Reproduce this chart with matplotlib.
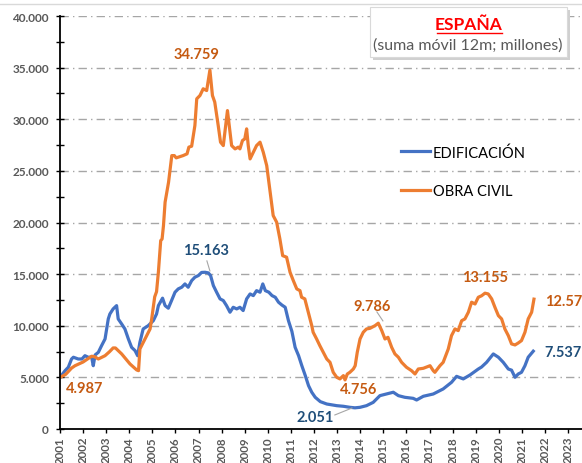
import matplotlib.pyplot as plt
from matplotlib.lines import Line2D
from matplotlib.ticker import MultipleLocator, FuncFormatter
from matplotlib.patches import FancyBboxPatch

# Data (12-month moving sum, millions EUR)
obra_years = [2001.00, 2001.25, 2001.50, 2001.65, 2002.00, 2002.37, 2002.50, 2002.66, 2002.95,
              2003.15, 2003.30, 2003.40, 2003.67, 2004.03, 2004.32, 2004.40, 2004.46, 2004.68,
              2004.90, 2004.97, 2005.10, 2005.18, 2005.26, 2005.36, 2005.42, 2005.48, 2005.55,
              2005.70, 2005.84, 2005.95, 2006.03, 2006.33, 2006.50, 2006.58, 2006.70, 2006.84,
              2006.92, 2007.06, 2007.20, 2007.35, 2007.49, 2007.60, 2007.70, 2007.85, 2007.95,
              2008.07, 2008.19, 2008.25, 2008.36, 2008.43, 2008.58, 2008.72, 2008.79, 2008.90,
              2009.00, 2009.08, 2009.15, 2009.23, 2009.37, 2009.51, 2009.66, 2009.80, 2009.95,
              2010.10, 2010.23, 2010.38, 2010.52, 2010.64, 2010.81, 2010.96, 2011.10, 2011.25,
              2011.39, 2011.46, 2011.60, 2011.75, 2011.90, 2011.96, 2012.11, 2012.25, 2012.40,
              2012.55, 2012.69, 2012.83, 2012.98, 2013.12, 2013.27, 2013.34, 2013.44, 2013.55,
              2013.70, 2013.78, 2013.87, 2013.99, 2014.13, 2014.27, 2014.42, 2014.64, 2014.78,
              2014.93, 2015.07, 2015.20, 2015.36, 2015.50, 2015.65, 2015.79, 2016.00, 2016.22,
              2016.37, 2016.51, 2016.73, 2017.02, 2017.16, 2017.23, 2017.45, 2017.59, 2017.81,
              2017.95, 2018.10, 2018.24, 2018.39, 2018.53, 2018.68, 2018.82, 2018.97, 2019.11,
              2019.25, 2019.40, 2019.54, 2019.69, 2019.83, 2019.98, 2020.12, 2020.26, 2020.41,
              2020.55, 2020.70, 2020.84, 2020.98, 2021.13, 2021.27, 2021.42, 2021.52]
obra_civil = [4987, 5300, 5900, 6130, 6490, 7050, 7000, 6780, 7100,
              7500, 7850, 7850, 7270, 6300, 5720, 5650, 7750, 8720,
              9690, 10660, 12800, 13300, 15200, 18250, 18400, 19700, 21970,
              23900, 26480, 26480, 26260, 26480, 26650, 27300, 27390, 29390,
              31980, 32300, 32950, 32780, 34759, 32300, 31660, 29390, 27780,
              27450, 29720, 30840, 28750, 27450, 27130, 27300, 27130, 27940,
              28100, 29070, 27450, 26160, 26810, 27450, 27780, 26810, 25510,
              22940, 20670, 20030, 18410, 16790, 16640, 15180, 14380, 13570,
              13400, 12760, 12600, 11310, 10010, 9370, 8720, 8070, 7430,
              6780, 6460, 5490, 5010, 4850, 5170, 4756, 5330, 5490,
              5810, 6130, 7430, 8720, 9370, 9690, 9750, 10010, 10250,
              9530, 8720, 8880, 7910, 7270, 6950, 6460, 5980, 5650,
              5330, 5810, 5880, 6130, 5650, 5490, 6130, 6460, 7750,
              9040, 9690, 9530, 10490, 10660, 11310, 12280, 12110, 12760,
              12900, 13155, 13080, 12600, 11790, 10980, 10660, 9690, 9040,
              8240, 8140, 8330, 8560, 9370, 10660, 11310, 12577]

edif_years = [2001.00, 2001.22, 2001.36, 2001.50, 2001.58, 2001.79, 2001.95, 2002.08, 2002.22,
              2002.37, 2002.44, 2002.52, 2002.66, 2002.80, 2002.95, 2003.09, 2003.16, 2003.30,
              2003.45, 2003.52, 2003.67, 2003.81, 2003.96, 2004.10, 2004.25, 2004.36, 2004.46,
              2004.60, 2004.82, 2005.04, 2005.18, 2005.26, 2005.44, 2005.55, 2005.69, 2005.83,
              2005.98, 2006.12, 2006.27, 2006.41, 2006.55, 2006.70, 2006.84, 2006.99, 2007.13,
              2007.28, 2007.42, 2007.52, 2007.64, 2007.78, 2007.93, 2008.07, 2008.21, 2008.36,
              2008.50, 2008.65, 2008.79, 2008.93, 2009.08, 2009.23, 2009.37, 2009.51, 2009.66,
              2009.78, 2009.89, 2010.04, 2010.18, 2010.32, 2010.46, 2010.61, 2010.75, 2010.89,
              2011.04, 2011.18, 2011.33, 2011.47, 2011.62, 2011.76, 2011.90, 2012.05, 2012.27,
              2012.55, 2012.98, 2013.27, 2013.55, 2013.77, 2013.99, 2014.27, 2014.56, 2014.85,
              2015.13, 2015.43, 2015.65, 2015.93, 2016.29, 2016.44, 2016.73, 2017.16, 2017.59,
              2017.95, 2018.17, 2018.46, 2018.75, 2019.11, 2019.25, 2019.47, 2019.76, 2019.98,
              2020.19, 2020.41, 2020.55, 2020.70, 2020.84, 2020.98, 2021.13, 2021.27, 2021.49]
edificacion = [5000, 5650, 5980, 6780, 6950, 6780, 6780, 7100, 6950,
               6950, 6130, 7170, 7430, 8070, 8720, 10660, 11140, 11630,
               11950, 10660, 10170, 9690, 8720, 7910, 7590, 7100, 8400,
               9690, 10010, 10490, 11140, 11950, 12670, 11950, 11700, 12440,
               13250, 13570, 13730, 14050, 13730, 14370, 14700, 14860, 15163,
               15180, 15120, 14860, 13890, 13250, 12600, 12440, 11950, 11310,
               11790, 11630, 11790, 11470, 12600, 13080, 12920, 13400, 13250,
               14050, 13400, 13250, 12920, 12760, 12280, 12000, 11790, 10500,
               9450, 7910, 7100, 6130, 5170, 4200, 3560, 3070, 2650,
               2420, 2260, 2200, 2100, 2051, 2100, 2260, 2580, 3230,
               3390, 3560, 3230, 3070, 2970, 2810, 3170, 3390, 3880,
               4520, 5100, 4850, 5230, 5810, 6000, 6460, 7270, 6950,
               6460, 5810, 5700, 5010, 5330, 5490, 6130, 6950, 7537]

year_ticks = list(range(2001, 2024))

BLUE = '#4472C4'
ORANGE = '#ED7D31'
BLUE_TXT = '#1F4E79'
ORANGE_TXT = '#C55A11'
GREY = '#595959'

plt.rcParams['font.family'] = ['Lato', 'DejaVu Sans']

fig = plt.figure(figsize=(5.82, 4.64), dpi=100)
ax = fig.add_axes([60 / 582, 34 / 464, 522 / 582, 413 / 464])

ax.plot(edif_years, edificacion, color=BLUE, linewidth=2.3, label='EDIFICACIÓN',
        solid_joinstyle='round')
ax.plot(obra_years, obra_civil, color=ORANGE, linewidth=2.3, label='OBRA CIVIL',
        solid_joinstyle='round')

ax.set_xlim(2001, 2023.6)
ax.set_ylim(0, 40000)

# y axis
ax.yaxis.set_major_locator(MultipleLocator(5000))
ax.yaxis.set_minor_locator(MultipleLocator(2500))
ax.yaxis.set_major_formatter(FuncFormatter(lambda v, p: f'{int(v):,}'.replace(',', '.')))
ax.tick_params(axis='y', which='both', direction='inout', length=6, width=1,
               labelsize=8.5, labelcolor=GREY, pad=5)
for lab in ax.get_yticklabels():
    lab.set_fontweight('bold')
ax.grid(axis='y', which='major', color='#A6A6A6', linestyle=(0, (6, 3, 1, 3)), linewidth=1)

# x axis
ax.set_xticks(year_ticks)
ax.set_xticklabels([str(y) for y in year_ticks], rotation=90, fontsize=8.3,
                   fontweight='bold', color=GREY)
ax.tick_params(axis='x', direction='out', length=3, width=1, pad=2)

for side in ['top', 'right']:
    ax.spines[side].set_visible(False)
for side in ['left', 'bottom']:
    ax.spines[side].set_linewidth(1.3)
    ax.spines[side].set_color('black')

# value labels
lab_kw = dict(fontsize=10.5, fontweight='bold')
ax.text(2006.89, 36340, '34.759', color=ORANGE_TXT, ha='center', va='center', **lab_kw)
ax.text(2007.32, 17350, '15.163', color=BLUE_TXT, ha='center', va='center', **lab_kw)
ax.plot([2007.36, 2007.49], [16280, 15310], color='#A6A6A6', linewidth=0.8)
ax.text(2002.08, 3970, '4.987', color=ORANGE_TXT, ha='center', va='center', **lab_kw)
ax.text(2012.04, 1160, '2.051', color=BLUE_TXT, ha='center', va='center', **lab_kw)
ax.plot([2012.9, 2013.64], [1360, 2030], color='#A6A6A6', linewidth=0.8)
ax.text(2013.94, 3880, '4.756', color=ORANGE_TXT, ha='center', va='center', **lab_kw)
ax.text(2014.5, 11920, '9.786', color=ORANGE_TXT, ha='center', va='center', **lab_kw)
ax.plot([2014.72, 2014.98], [11340, 10470], color='#A6A6A6', linewidth=0.8)
ax.text(2019.4, 14730, '13.155', color=ORANGE_TXT, ha='center', va='center', **lab_kw)
ax.text(2021.99, 12400, '12.577', color=ORANGE_TXT, ha='left', va='center', clip_on=False, **lab_kw)
ax.text(2021.99, 7460, '7.537', color=BLUE_TXT, ha='left', va='center', **lab_kw)

# legend
leg = ax.legend(loc='upper left', bbox_to_anchor=(341 / 522, (447 - 163) / 413), frameon=False,
                fontsize=10.5, handlelength=2.0, handletextpad=0.2, labelspacing=1.7,
                borderpad=0, borderaxespad=0)

# title box with shadow
shadow = FancyBboxPatch((373 / 582, 1 - 61 / 464), 197 / 582, 50 / 464,
                        boxstyle='square,pad=0', transform=fig.transFigure,
                        facecolor='#D0D0D0', edgecolor='none', zorder=4)
box = FancyBboxPatch((370 / 582, 1 - 58 / 464), 197 / 582, 50 / 464,
                     boxstyle='square,pad=0', transform=fig.transFigure,
                     facecolor='white', edgecolor='#D9D9D9', linewidth=0.8, zorder=5)
fig.add_artist(shadow)
fig.add_artist(box)
fig.text(469 / 582, 1 - 25 / 464, 'ESPAÑA', color='#FF0000', fontsize=12.5, fontweight='bold',
         ha='center', va='center', zorder=6)
fig.add_artist(Line2D([437 / 582, 502 / 582], [1 - 34 / 464, 1 - 34 / 464], color='#FF0000',
                      linewidth=1.0, zorder=6))
fig.text(468 / 582, 1 - 46 / 464, '(suma móvil 12m; millones)', color=GREY, fontsize=11.5,
         ha='center', va='center', zorder=6)

# chart area top border
fig.add_artist(Line2D([0, 1], [1 - 5 / 464, 1 - 5 / 464], color='#D9D9D9', linewidth=1))

fig.savefig('out.png', dpi=100, facecolor='white')
